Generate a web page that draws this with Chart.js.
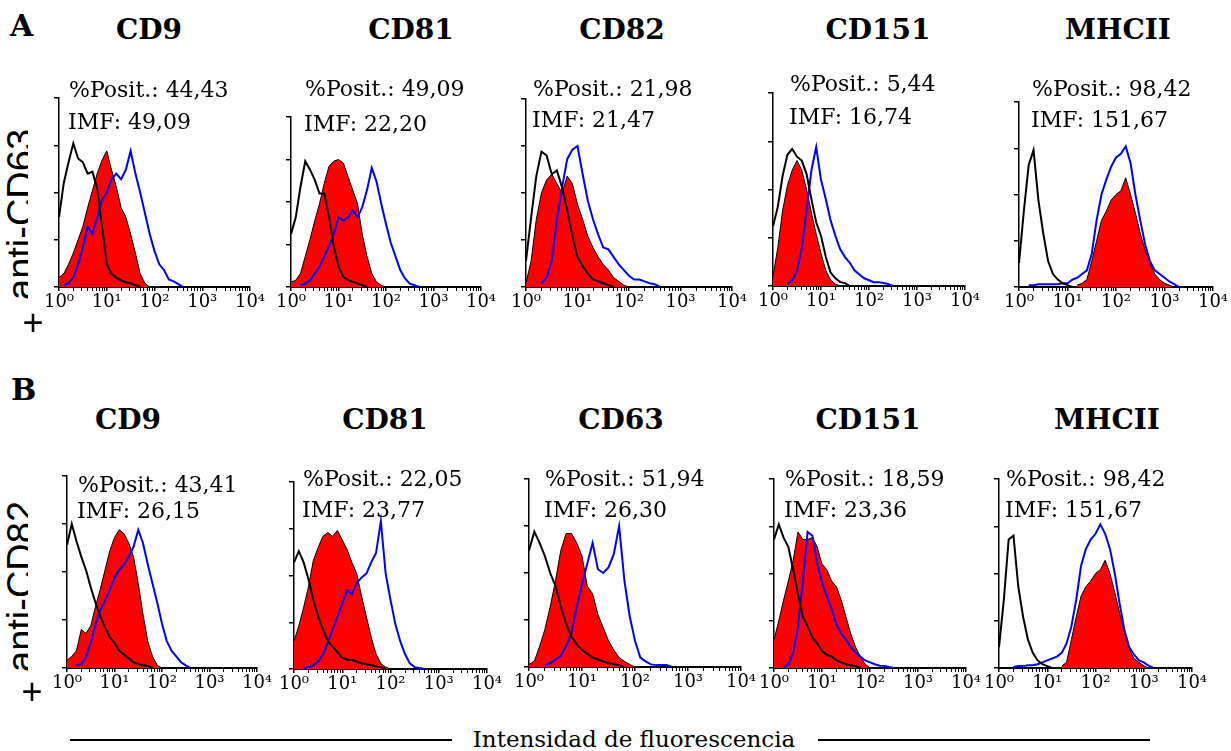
<!DOCTYPE html>
<html>
<head>
<meta charset="utf-8">
<script src="https://cdn.jsdelivr.net/npm/chart.js@4.4.0/dist/chart.umd.min.js"></script>
<style>
  body { margin: 0; background: #fff; width: 1231px; height: 751px; position: relative; overflow: hidden; }
  .txt { position: absolute; white-space: nowrap; color: #000; line-height: 1; font-family: 'DejaVu Serif', serif; }
  .clip { position: absolute; overflow: hidden; }
  canvas { position: absolute; }
  .rule { position: absolute; height: 2px; background: #000; }
</style>
</head>
<body>
<script>
// ---- data (y in % of the axis height) ----
const logBins = [0,0.1,0.2,0.3,0.4,0.5,0.6,0.7,0.8,0.9,1,1.1,1.2,1.3,1.4,1.5,1.6,1.7,1.8,1.9,2,2.1,2.2,2.3,2.4,2.5,2.6,2.7,2.8,2.9,3,3.1,3.2,3.3];
const minorSteps = [1,2,3,4,5,6,7,8,9];
const decades = [1,10,100,1000];
const decadeLabels = { 1: '10⁰', 10: '10¹', 100: '10²', 1000: '10³', 10000: '10⁴' };

const titlesA = ['CD9', 'CD81', 'CD82', 'CD151', 'MHCII'];
const titlesB = ['CD9', 'CD81', 'CD63', 'CD151', 'MHCII'];
const positA = ['44,43', '49,09', '21,98', '5,44', '98,42'];
const imfA = ['49,09', '22,20', '21,47', '16,74', '151,67'];
const positB = ['43,41', '22,05', '51,94', '18,59', '98,42'];
const imfB = ['26,15', '23,77', '26,30', '23,36', '151,67'];

// row A (+ anti-CD63)
const a1Black = [37,55,66,76,68,66,60,61,52,32,12,7,5,3.5,2.5,2,1,0];
const a1Red = [5,7,12,18,25,32,42,51,60,67,72,62,53,42,37,28,18,7,2,0];
const a1Blue = [null,1,2,5,12,21,32,28,37,46,50,57,60,57,62,72,60,50,39,28,19,12,9,4,3,1.5,0];

const a2Black = [31,41,59,74,69,63,55,55,41,24,12,6,4,3,2,1,0];
const a2Red = [3,4,8,18,28,39,49,61,71,74,75,73,65,57,49,31,18,8,3,1,0];
const a2Blue = [null,null,1,2,4,8,12,18,24,31,41,39,41,45,41,47,57,70,62,49,37,26,18,10,5,2,1,0];

const a3Black = [14,37,59,72,70,60,62,53,41,27,16,11,7,4,3,2,1,0];
const a3Red = [2,14,36,50,57,60,55,50,59,55,44,36,27,21,16,12,9,5,3,1,0];
const a3Blue = [null,null,null,2,5,14,36,53,68,73,75,60,46,36,28,21,20,16,12,9,6,4,4,3,2,1.5,0];

const a4Black = [31,41,57,68,71,67,65,58,45,33,26,15,7,4,2,1.5,0];
const a4Red = [5,20,39,52,60,65,60,50,38,27,17,8,3,1,0];
const a4Blue = [null,null,null,1,3,8,20,39,60,72,55,45,34,26,19,15,12,8,6,4,3,2,2,1.5,1,0];

const a5Black = [13,41,66,74,47,29,14,7,4,2,1,0];
const a5Red = [null,null,null,null,null,null,null,null,null,null,null,null,1,2,4,14,25,36,41,47,50,52,59,50,40,29,20,13,7,4,2,1,0];
const a5Blue = [null,null,1,1,1.5,1.5,1.5,1.5,1.5,2,2,4,5,7,9,18,36,50,58,65,70,72,76,67,50,36,23,14,9,7,5,3,1.5,0];

// row B (+ anti-CD82)
const b1Black = [64,75,66,58,51,42,34,27,21,16,13,9,7,5,3,2,1.4,1,0];
const b1Red = [4,6,9,20,18,22,32,41,51,61,68,72,70,65,58,44,28,14,6,1.4,0];
const b1Blue = [null,null,1.4,2,6,13,23,30,35,41,47,51,54,58,63,72,65,54,44,34,23,14,9,6,3,1.4,0];

const b2Black = [57,63,57,48,37,28,21,15,12,9,6,5,5,4,3,2.5,2,1.4,1,0];
const b2Red = [15,23,33,44,58,65,71,73,71,74,69,64,57,51,39,28,17,8,3,1,0];
const b2Blue = [null,null,0.5,1,2,4,8,14,21,28,35,42,40,46,49,51,57,62,79,51,37,24,15,8,3,1,0.5,0];

const b3Black = [62,72,66,59,50,43,32,23,16,12,9,7,5,4,3,2,1.4,1,0];
const b3Red = [1.4,3,11,20,32,46,62,71,71,66,59,43,39,28,21,14,9,5,3,1.4,0];
const b3Blue = [null,null,null,1,2,4,6,11,18,32,44,55,66,52,50,53,60,75,46,27,14,5,3,1.4,1,1,1,0];

const b4Black = [68,76,69,64,52,39,27,22,16,13,9,7,6,4,3,2,1.4,1,0];
const b4Red = [15,25,36,46,57,72,68,68,69,64,55,52,46,43,36,27,18,11,6,2,0];
const b4Blue = [null,null,0.5,2,8,22,46,72,70,55,45,38,31,23,18,15,11,8,6,4,3,2,1.2,1,0.5,0];

const b5Black = [11,36,68,70,43,27,15,8,4,2,1,0];
const b5Red = [null,null,null,null,null,null,null,null,null,null,null,null,null,1,3,15,27,38,43,46,50,52,57,50,40,29,19,10,5,3,1.2,0];
const b5Blue = [null,null,null,0.5,1,1,1.5,1.5,2,3,4,5,6,8,13,22,36,54,63,68,71,76,71,63,50,34,20,11,7,4,3,1.2,0];

// ---- layout ----
const panels = [
  { box: { l: 59, r: 250, t: 98, b: 287 }, black: a1Black, red: a1Red, blue: a1Blue },
  { box: { l: 291, r: 481, t: 117, b: 287 }, black: a2Black, red: a2Red, blue: a2Blue },
  { box: { l: 526, r: 732, t: 99, b: 287 }, black: a3Black, red: a3Red, blue: a3Blue },
  { box: { l: 773, r: 965, t: 93, b: 286 }, black: a4Black, red: a4Red, blue: a4Blue },
  { box: { l: 1019, r: 1213, t: 102, b: 287 }, black: a5Black, red: a5Red, blue: a5Blue },
  { box: { l: 67, r: 257, t: 476, b: 668 }, black: b1Black, red: b1Red, blue: b1Blue },
  { box: { l: 294, r: 487, t: 482, b: 669 }, black: b2Black, red: b2Red, blue: b2Blue },
  { box: { l: 529, r: 741, t: 479, b: 667 }, black: b3Black, red: b3Red, blue: b3Blue },
  { box: { l: 774, r: 966, t: 479, b: 668 }, black: b4Black, red: b4Red, blue: b4Blue },
  { box: { l: 999, r: 1192, t: 479, b: 668 }, black: b5Black, red: b5Red, blue: b5Blue }
];
const titleXA = [149, 411, 622, 878, 1118];
const titleXB = [128, 385, 621, 868, 1107];
const noteA = [[69, 98, 130], [305, 97, 132], [533, 97, 128], [790, 92, 125], [1032, 97, 128]];
const noteB = [[78, 493, 519], [303, 487, 518], [545, 487, 518], [785, 487, 518], [1006, 487, 518]];

Chart.defaults.font.family = "'DejaVu Serif', serif";
Chart.defaults.color = '#000';

function addText(str, x, baseline, size, opts = {}) {
  const d = document.createElement('div');
  d.className = 'txt';
  d.textContent = str;
  d.style.fontSize = size + 'px';
  d.style.left = x + 'px';
  d.style.top = (baseline - 0.846 * size) + 'px';
  if (opts.bold) d.style.fontWeight = 'bold';
  if (opts.family) d.style.fontFamily = opts.family;
  if (opts.center) d.style.transform = 'translateX(-50%)';
  (opts.parent || document.body).appendChild(d);
  return d;
}

// rotated side label, cut off on its right like the pasted original
function sideLabel(str, top, bottom) {
  const box = document.createElement('div');
  box.className = 'clip';
  box.style.left = '0px';
  box.style.top = top + 'px';
  box.style.width = '28px';
  box.style.height = (bottom - top) + 'px';
  document.body.appendChild(box);
  const d = addText(str, 2, 0, 38, { family: "'Liberation Sans', Arial, sans-serif", parent: box });
  d.style.top = (bottom - top) + 'px';
  d.style.transformOrigin = '0 0';
  d.style.transform = 'rotate(-90deg)';
}

function points(vals) {
  return vals.map((v, i) => ({ x: Math.pow(10, logBins[i]), y: v }));
}

const xTicks = [];
decades.forEach(d => minorSteps.forEach(s => xTicks.push({ value: d * s, major: s === 1 })));
xTicks.push({ value: 10000, major: true });

function drawPanel(p) {
  const box = p.box;
  const padTop = 12, padRight = 24, yw = 30, xh = 30;
  const cv = document.createElement('canvas');
  cv.width = box.r - box.l + yw + padRight;
  cv.height = box.b - box.t + padTop + xh;
  cv.style.left = (box.l - yw) + 'px';
  cv.style.top = (box.t - padTop) + 'px';
  document.body.appendChild(cv);

  new Chart(cv, {
    type: 'line',
    data: {
      datasets: [
        { data: points(p.black), borderColor: '#000', borderWidth: 2, pointRadius: 0, fill: false },
        { data: points(p.blue), borderColor: '#0000ff', borderWidth: 2, pointRadius: 0, fill: false },
        { data: points(p.red), borderColor: '#000', borderWidth: 1, backgroundColor: '#ff0000', pointRadius: 0, fill: 'origin' }
      ]
    },
    options: {
      responsive: false,
      animation: false,
      layout: { padding: { top: padTop, right: padRight, left: 0, bottom: 0 } },
      plugins: { legend: { display: false }, tooltip: { enabled: false } },
      scales: {
        x: {
          type: 'logarithmic',
          min: 1,
          max: 10000,
          afterFit: s => { s.height = xh; },
          afterBuildTicks: s => { s.ticks = xTicks.map(t => ({ ...t })); },
          ticks: {
            autoSkip: false,
            maxRotation: 0,
            padding: 1,
            color: '#000',
            font: { size: 18 },
            callback: v => decadeLabels[v] || ''
          },
          grid: {
            drawOnChartArea: false,
            tickLength: 4,
            color: '#000',
            lineWidth: ctx => (ctx.tick && ctx.tick.major ? 1.5 : 1)
          },
          border: { color: '#000', width: 2 }
        },
        y: {
          min: 0,
          max: 100,
          afterFit: s => { s.width = yw; },
          ticks: { stepSize: 25, display: false },
          grid: { drawOnChartArea: false, tickLength: 5, color: '#000', lineWidth: 1.5 },
          border: { color: '#000', width: 1.5 }
        }
      }
    }
  });
}

panels.forEach(drawPanel);

// panel letters and titles
addText('A', 10, 36, 30, { bold: true });
addText('B', 11, 400, 30, { bold: true });
titlesA.forEach((t, i) => addText(t, titleXA[i], 40, 28, { bold: true, center: true }));
titlesB.forEach((t, i) => addText(t, titleXB[i], 430, 28, { bold: true, center: true }));

// %Posit. / IMF notes
positA.forEach((v, i) => {
  addText('%Posit.: ' + v, noteA[i][0], noteA[i][1], 22);
  addText('IMF: ' + imfA[i], noteA[i][0] - 1, noteA[i][2], 22);
});
positB.forEach((v, i) => {
  addText('%Posit.: ' + v, noteB[i][0], noteB[i][1], 22);
  addText('IMF: ' + imfB[i], noteB[i][0] - 1, noteB[i][2], 22);
});

// rotated row labels
sideLabel('anti-CD63', 100, 300);
sideLabel('anti-CD82', 470, 672);
addText('+', 22.5, 335, 36, { family: "'Liberation Sans', Arial, sans-serif" });
addText('+', 21.5, 704, 36, { family: "'Liberation Sans', Arial, sans-serif" });

// shared x-axis caption
const r1 = document.createElement('div');
r1.className = 'rule';
r1.style.left = '70px'; r1.style.top = '739px'; r1.style.width = '382px';
document.body.appendChild(r1);
const r2 = document.createElement('div');
r2.className = 'rule';
r2.style.left = '818px'; r2.style.top = '739px'; r2.style.width = '332px';
document.body.appendChild(r2);
addText('Intensidad de fluorescencia', 634, 747, 23, { center: true });
</script>
</body>
</html>
